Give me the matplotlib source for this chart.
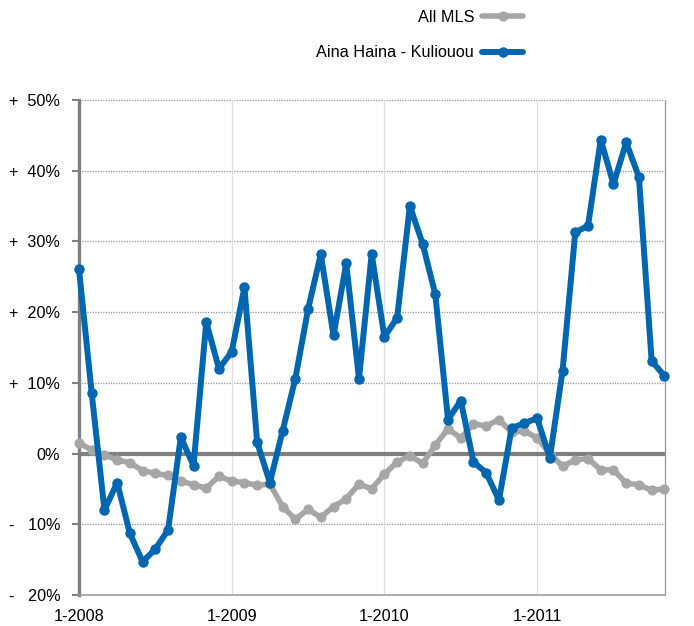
import matplotlib
matplotlib.use("Agg")
import matplotlib.pyplot as plt
from matplotlib.lines import Line2D

plt.rcParams['font.family'] = ['Liberation Sans', 'DejaVu Sans']

months = list(range(47))
tick_months = [0, 12, 24, 36]
tick_labels = ["1-2008", "1-2009", "1-2010", "1-2011"]
y_ticks = [-20, -10, 0, 10, 20, 30, 40, 50]
y_tick_labels = ["-   20%", "-   10%", "0%", "+  10%", "+  20%", "+  30%", "+  40%", "+  50%"]

series_names = ["All MLS", "Aina Haina - Kuliouou"]
all_mls = [1.5, 0.5, -0.2, -0.9, -1.3, -2.4, -2.8, -3.1, -3.9, -4.4, -4.9, -3.2,
           -3.9, -4.1, -4.5, -4.3, -7.5, -9.3, -7.9, -9.0, -7.5, -6.4, -4.3, -5.0,
           -2.9, -1.2, -0.3, -1.4, 1.2, 3.5, 2.2, 4.2, 3.9, 4.8, 3.0, 3.2,
           2.2, 0.0, -1.8, -0.9, -0.7, -2.3, -2.3, -4.2, -4.4, -5.2, -5.0]
aina = [26.1, 8.5, -8.0, -4.1, -11.3, -15.3, -13.5, -10.8, 2.3, -1.7, 18.6, 12.0,
        14.4, 23.5, 1.6, -4.1, 3.2, 10.6, 20.4, 28.2, 16.7, 26.9, 10.6, 28.2,
        16.5, 19.2, 35.0, 29.7, 22.5, 4.8, 7.5, -1.2, -2.7, -6.6, 3.6, 4.3,
        5.0, -0.6, 11.7, 31.3, 32.2, 44.4, 38.1, 44.0, 39.1, 13.1, 11.0]

GRAY = '#a6a6a6'
BLUE = '#0066b0'
AXGRAY = '#808080'

fig = plt.figure(figsize=(6.94, 6.26), dpi=100)
ax = fig.add_axes([79/694, 1-595/626, (665-79)/694, (595-100)/626])

ax.set_xlim(0, 46.05)
ax.set_ylim(-20, 50)

# grid
for t in y_ticks[1:]:
    if t == 0:
        continue
    ax.axhline(t, color='#949494', lw=0.9, ls=(0, (1, 1.1)), zorder=1)
for t in tick_months[1:]:
    ax.axvline(t, color='#e0e0e0', lw=0.9, zorder=1)
ax.axhline(0, color=AXGRAY, lw=3.0, zorder=2)

l1, = ax.plot(months, all_mls, color=GRAY, lw=4.0, marker='o', ms=6.3,
              solid_capstyle='round', zorder=3, clip_on=False)
l2, = ax.plot(months, aina, color=BLUE, lw=4.3, marker='o', ms=6.5,
              solid_capstyle='round', zorder=4, clip_on=False)

ax.spines['top'].set_visible(False)
ax.spines['right'].set_color('#949494')
ax.spines['right'].set_linestyle((0, (1, 1.1)))
ax.spines['right'].set_linewidth(0.9)
ax.spines['left'].set_color(AXGRAY)
ax.spines['left'].set_linewidth(2.4)
ax.spines['bottom'].set_color('#a0a0a0')
ax.spines['bottom'].set_linewidth(1.2)

ax.set_yticks(y_ticks)
ax.set_yticklabels(y_tick_labels)
ax.set_xticks(tick_months)
ax.set_xticklabels(tick_labels)
ax.tick_params(axis='y', length=5, width=1.5, color=AXGRAY, pad=8.5,
               labelsize=11.7, labelcolor='black')
ax.tick_params(axis='x', length=0, pad=10, labelsize=11.7, labelcolor='black')

h1 = Line2D([], [], color=GRAY, lw=4.0, marker='o', ms=6.3, solid_capstyle='round')
h2 = Line2D([], [], color=BLUE, lw=4.3, marker='o', ms=6.5, solid_capstyle='round')
leg = ax.legend([h1, h2], series_names, loc='upper right',
                bbox_to_anchor=(523/694, 1-10/626), bbox_transform=fig.transFigure,
                frameon=False, markerfirst=False, handlelength=2.5,
                handletextpad=0.5, labelspacing=1.25, borderpad=0,
                borderaxespad=0, fontsize=11.7, numpoints=1)

fig.savefig('out.png', dpi=100)
